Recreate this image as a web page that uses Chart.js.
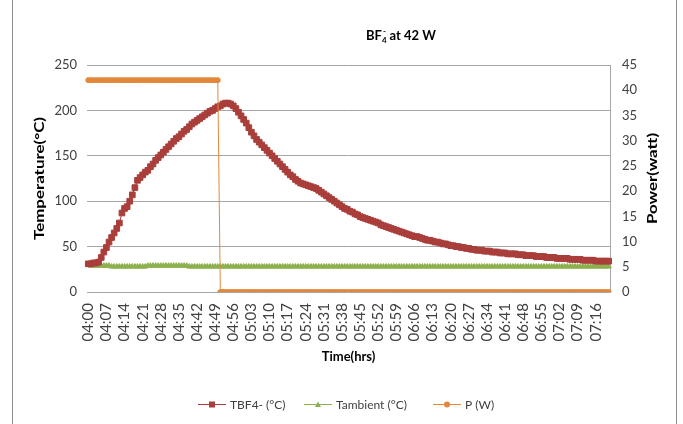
<!DOCTYPE html>
<html>
<head>
<meta charset="utf-8">
<script src="https://cdn.jsdelivr.net/npm/chart.js@4.4.1/dist/chart.umd.min.js"></script>
<style>
  html, body { margin: 0; padding: 0; background: #fff; }
  #wrap { position: relative; width: 683px; height: 424px; }
</style>
</head>
<body>
<div id="wrap"><canvas id="c" width="683" height="424"></canvas></div>
<script>
// one reading per minute, 04:00 -> 07:21
const START_TIME = "04:00";
const TICK_EVERY = 7;

const tBF4 = [
  31,31,32,32,33,38,44,49,55,60,
  65,70,76,87,92,94,100,107,115,123,
  126,129,132,134,138,141,145,148,151,154,
  157,160,163,166,169,171,174,177,179,182,
  185,187,189,191,193,195,197,199,200,202,
  204,205,207,208,208,207,205,202,198,194,
  190,186,181,176,172,168,165,162,159,156,
  153,150,147,144,141,138,135,132,129,127,
  124,122,120,119,118,117,116,115,114,112,
  110,108,106,104,102,100,98,96,94,92,
  91,89,88,86,85,83,82,81,80,79,
  78,77,76,74,73,72,71,70,69,68,
  67,66,65,64,63,62,61,61,60,59,
  58,57,57,56,55,55,54,53,53,52,
  51,51,50,50,49,49,48,48,47,47,
  46,46,46,45,45,45,44,44,44,43,
  43,43,42,42,42,42,41,41,41,40,
  40,40,40,39,39,39,39,38,38,38,
  38,37,37,37,37,37,36,36,36,36,
  36,35,35,35,35,35,34,34,34,34,
  34,34
];

const tAmbient = [
  30,29,29,29,29,29,29,29,29,28,
  28,28,28,28,28,28,28,28,28,28,
  28,28,28,29,29,29,29,29,29,29,
  29,29,29,29,29,29,29,29,29,28,
  28,28,28,28,28,28,28,28,28,28,
  28,28,28,28,28,28,28,28,28,28,
  28,28,28,28,28,28,28,28,28,28,
  28,28,28,28,28,28,28,28,28,28,
  28,28,28,28,28,28,28,28,28,28,
  28,28,28,28,28,28,28,28,28,28,
  28,28,28,28,28,28,28,28,28,28,
  28,28,28,28,28,28,28,28,28,28,
  28,28,28,28,28,28,28,28,28,28,
  28,28,28,28,28,28,28,28,28,28,
  28,28,28,28,28,28,28,28,28,28,
  28,28,28,28,28,28,28,28,28,28,
  28,28,28,28,28,28,28,28,28,28,
  28,28,28,28,28,28,28,28,28,28,
  28,28,28,28,28,28,28,28,28,28,
  28,28,28,28,28,28,28,28,28,28,
  28,28
];

const power = [
  42,42,42,42,42,42,42,42,42,42,
  42,42,42,42,42,42,42,42,42,42,
  42,42,42,42,42,42,42,42,42,42,
  42,42,42,42,42,42,42,42,42,42,
  42,42,42,42,42,42,42,42,42,42,
  42,0,0,0,0,0,0,0,0,0,
  0,0,0,0,0,0,0,0,0,0,
  0,0,0,0,0,0,0,0,0,0,
  0,0,0,0,0,0,0,0,0,0,
  0,0,0,0,0,0,0,0,0,0,
  0,0,0,0,0,0,0,0,0,0,
  0,0,0,0,0,0,0,0,0,0,
  0,0,0,0,0,0,0,0,0,0,
  0,0,0,0,0,0,0,0,0,0,
  0,0,0,0,0,0,0,0,0,0,
  0,0,0,0,0,0,0,0,0,0,
  0,0,0,0,0,0,0,0,0,0,
  0,0,0,0,0,0,0,0,0,0,
  0,0,0,0,0,0,0,0,0,0,
  0,0,0,0,0,0,0,0,0,0,
  0,0
];

const seriesNames = ["TBF4- (°C)", "Tambient (°C)", "P (W)"];
const RED = "#A93E3B", GREEN = "#8DB04E", ORANGE = "#E3873B";
const FONT = "Lato, 'Open Sans', sans-serif";

// categories hh:mm
const times = [];
(function () {
  const p = START_TIME.split(":");
  let m = (+p[0]) * 60 + (+p[1]);
  for (let i = 0; i < tBF4.length; i++, m++) {
    const h = Math.floor(m / 60), mm = m % 60;
    times.push(String(h).padStart(2, "0") + ":" + String(mm).padStart(2, "0"));
  }
})();

// stretched vertical text, as in the pasted excel picture
function vText(ctx, str, x, y, font, stretch) {
  ctx.save();
  ctx.translate(x, y);
  ctx.rotate(-Math.PI / 2);
  ctx.scale(stretch, 1);
  ctx.font = font;
  ctx.textAlign = "center";
  ctx.textBaseline = "middle";
  ctx.fillText(str, 0, 0);
  ctx.restore();
}

function marker(ctx, kind, x, y, color) {
  ctx.fillStyle = color;
  ctx.strokeStyle = color;
  ctx.beginPath();
  if (kind === "rect") ctx.rect(x - 3, y - 3, 6, 6);
  else if (kind === "triangle") { ctx.moveTo(x, y - 3); ctx.lineTo(x + 3, y + 2.5); ctx.lineTo(x - 3, y + 2.5); ctx.closePath(); }
  else ctx.arc(x, y, 3, 0, Math.PI * 2);
  ctx.fill();
}

const decor = {
  id: "decor",
  afterDraw(chart) {
    const ctx = chart.ctx;
    const a = chart.chartArea;
    ctx.save();

    // chart area frame (left / right edges only visible)
    ctx.strokeStyle = "#8C8C8C";
    ctx.lineWidth = 1;
    ctx.beginPath();
    ctx.moveTo(12.5, 0); ctx.lineTo(12.5, 424);
    ctx.moveTo(676.5, 0); ctx.lineTo(676.5, 424);
    ctx.stroke();

    // title BF4- at 42 W
    ctx.fillStyle = "#000";
    ctx.textBaseline = "alphabetic";
    ctx.textAlign = "left";
    const big = "bold 13px " + FONT, small = "bold 8px " + FONT;
    ctx.font = big; const w1 = ctx.measureText("BF").width;
    ctx.font = small; const w2 = ctx.measureText("4").width;
    ctx.font = big; const w3 = ctx.measureText("at 42 W").width + 3;
    let x = 401 - (w1 + w2 + w3) / 2, y = 40;
    ctx.font = big; ctx.fillText("BF", x, y); x += w1;
    ctx.font = small; ctx.fillText("4", x, y + 3); ctx.fillText("-", x + 1, y - 6); x += w2 + 3;
    ctx.font = big; ctx.fillText("at 42 W", x, y);

    // axis titles
    const tf = "bold 13px " + FONT;
    vText(ctx, "Temperature(°C)", 40, (a.top + a.bottom) / 2, tf, 1.3);
    vText(ctx, "Power(watt)", 653, (a.top + a.bottom) / 2, tf, 1.3);
    ctx.font = tf;
    ctx.textAlign = "center";
    ctx.textBaseline = "middle";
    ctx.fillText("Time(hrs)", (a.left + a.right) / 2, 357);

    // legend
    const items = [
      { x0: 198, kind: "rect", color: RED },
      { x0: 304, kind: "triangle", color: GREEN },
      { x0: 433, kind: "circle", color: ORANGE }
    ];
    const ly = 404;
    ctx.font = "12px " + FONT;
    ctx.textAlign = "left";
    items.forEach(function (it, i) {
      ctx.strokeStyle = it.color;
      ctx.lineWidth = 1;
      ctx.beginPath();
      ctx.moveTo(it.x0, ly + 0.5); ctx.lineTo(it.x0 + 28, ly + 0.5);
      ctx.stroke();
      marker(ctx, it.kind, it.x0 + 14, ly + 0.5, it.color);
      ctx.fillStyle = "#404040";
      ctx.fillText(seriesNames[i], it.x0 + 32, ly + 1);
    });
    ctx.restore();
  }
};

new Chart(document.getElementById("c"), {
  type: "line",
  data: {
    labels: times,
    datasets: [
      {
        label: seriesNames[0], data: tBF4, yAxisID: "y", order: 1,
        borderColor: RED, backgroundColor: RED, borderWidth: 1,
        pointStyle: "rect", pointRadius: 4, pointBorderWidth: 1
      },
      {
        label: seriesNames[1], data: tAmbient, yAxisID: "y", order: 2,
        borderColor: GREEN, backgroundColor: GREEN, borderWidth: 1,
        pointStyle: "triangle", pointRadius: 3, pointBorderWidth: 1
      },
      {
        label: seriesNames[2], data: power, yAxisID: "y1", order: 0,
        borderColor: ORANGE, backgroundColor: ORANGE, borderWidth: 1,
        pointStyle: "circle", pointRadius: 2.5, pointBorderWidth: 1
      }
    ]
  },
  options: {
    responsive: false,
    animation: false,
    devicePixelRatio: 1,
    layout: { padding: { left: 12, right: 6, top: 65, bottom: 55 } },
    plugins: { legend: { display: false }, title: { display: false }, tooltip: { enabled: false } },
    scales: {
      x: {
        type: "category",
        offset: true,
        grid: { display: false },
        border: { display: false },
        ticks: {
          autoSkip: false,
          minRotation: 90,
          maxRotation: 90,
          padding: 3,
          color: "#404040",
          font: { family: FONT, size: 15 },
          callback: function (v, i) { return i % TICK_EVERY === 0 ? this.getLabelForValue(v) : null; }
        },
        afterFit: function (s) { s.height = 77; }
      },
      y: {
        position: "left",
        min: 0, max: 250,
        ticks: { stepSize: 50, padding: 10, color: "#404040", font: { family: FONT, size: 13 } },
        grid: { color: "#A6A6A6", drawTicks: false },
        border: { display: false },
        afterFit: function (s) { s.width = 75; }
      },
      y1: {
        position: "right",
        min: 0, max: 45,
        ticks: { stepSize: 5, padding: 12, color: "#404040", font: { family: FONT, size: 13 } },
        grid: { drawOnChartArea: false, drawTicks: false },
        border: { display: true, color: "#A6A6A6" },
        afterFit: function (s) { s.width = 67; }
      }
    }
  },
  plugins: [decor]
});
</script>
</body>
</html>
